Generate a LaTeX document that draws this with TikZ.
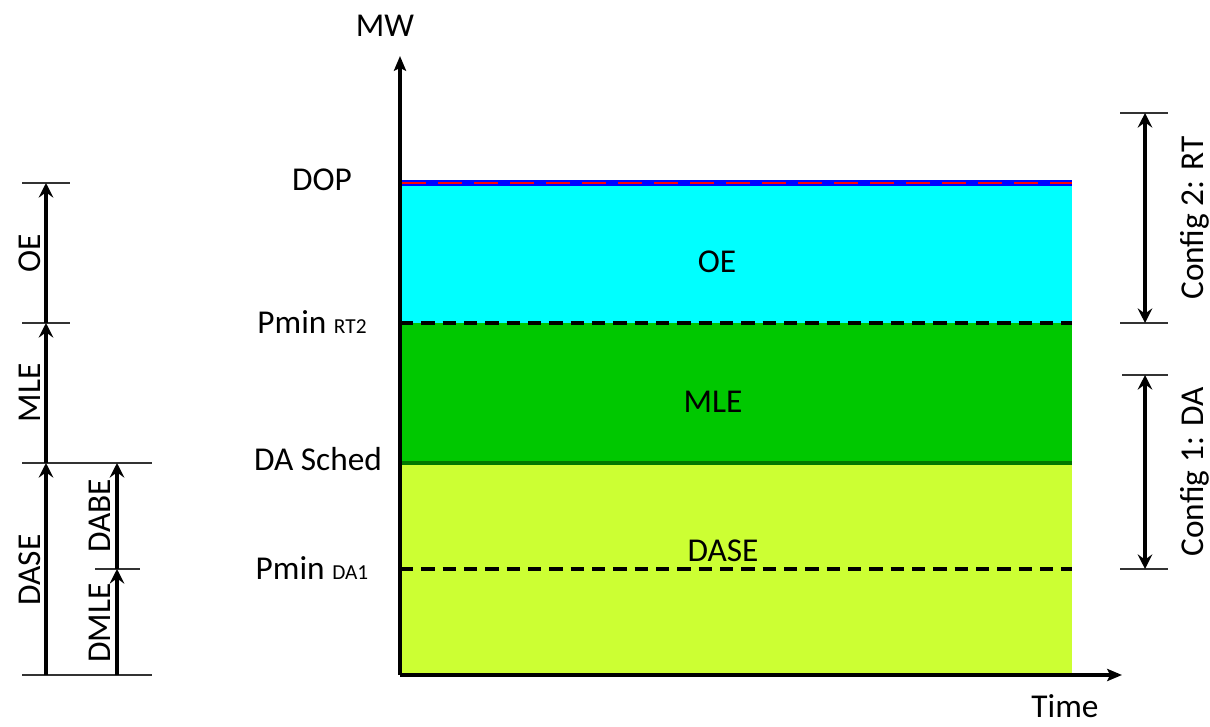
\documentclass[tikz,border=0pt]{standalone}
\usepackage{fontspec}
\setmainfont{Carlito}
\usetikzlibrary{arrows.meta}
\definecolor{cyanfill}{RGB}{0,255,255}
\definecolor{greenfill}{RGB}{0,200,0}
\definecolor{limefill}{RGB}{204,255,51}
\definecolor{darkgreen}{RGB}{0,120,0}
\definecolor{dopred}{RGB}{255,0,0}
\definecolor{dopblue}{RGB}{0,0,255}
\tikzset{
  lbl/.style={font=\fontsize{25}{30}\selectfont, inner sep=0pt},
  tick/.style={line width=1pt, black!80},
  arr/.style={line width=2.6pt, -{Stealth[length=11pt,width=11pt,inset=4pt]}},
  darr/.style={line width=2.6pt, {Stealth[length=11pt,width=11pt,inset=4pt]}-{Stealth[length=11pt,width=11pt,inset=4pt]}},
  axis/.style={line width=2.4pt, -{Stealth[length=11pt,width=9pt,inset=2pt]}},
  lvl/.style={line width=2.4pt, dash pattern=on 10pt off 6pt},
}
\begin{document}
\begin{tikzpicture}[x=0.75pt,y=-0.75pt]
\useasboundingbox (0,0) rectangle (1210,727);
% bands
\fill[cyanfill] (400,183) rectangle (1072,323);
\fill[greenfill] (400,323) rectangle (1072,463);
\fill[limefill] (400,463) rectangle (1072,675);
% lines
\draw[line width=3.8pt, dopblue] (400,183) -- (1072,183);
\draw[line width=2.2pt, dopred, dash pattern=on 18pt off 9pt] (402,183) -- (1072,183);
\draw[lvl] (400,323) -- (1072,323);
\draw[line width=3pt, darkgreen] (400,463) -- (1072,463);
\draw[lvl] (400,569) -- (1072,569);
% axes
\coordinate (O) at (400,675);
\coordinate (Ytop) at (400,56);
\coordinate (Xend) at (1122,675);
\draw[axis] (O) -- (Ytop);
\draw[axis] (O) -- (Xend);
\node[lbl] (mw) at (385,26) {MW};
\node[lbl] (time) at (1065,706) {Time};
% level labels
\node[lbl] (dop) at (322,180) {DOP};
\node[lbl] (prt) at (312,322) {Pmin {\fontsize{16}{19}\selectfont RT2}};
\node[lbl] (das) at (318,459) {DA Sched};
\node[lbl] (pda) at (312,568) {Pmin {\fontsize{16}{19}\selectfont DA1}};
% band labels
\node[lbl] (oe) at (717,262) {OE};
\node[lbl] (mle) at (713,402) {MLE};
\node[lbl] (dase) at (723,551) {DASE};
% left scale
\coordinate (L0) at (46,675);
\coordinate (L1) at (46,463);
\coordinate (L2) at (46,323);
\coordinate (L3) at (46,183);
\coordinate (M0) at (117,675);
\coordinate (M1) at (117,569);
\coordinate (M2) at (117,463);
\draw[tick] (22,183) -- (70,183);
\draw[tick] (22,323) -- (70,323);
\draw[tick] (22,463) -- (152,463);
\draw[tick] (95,569) -- (140,569);
\draw[tick] (22,675) -- (152,675);
\draw[arr] (L0) -- (L1);
\draw[arr] (L1) -- (L2);
\draw[arr] (L2) -- (L3);
\draw[arr] (M0) -- (M1);
\draw[arr] (M1) -- (M2);
\node[lbl, rotate=90] (loe) at (30,253) {OE};
\node[lbl, rotate=90] (lmle) at (30,393) {MLE};
\node[lbl, rotate=90] (ldase) at (30,570) {DASE};
\node[lbl, rotate=90] (ldabe) at (100,516) {DABE};
\node[lbl, rotate=90] (ldmle) at (100,623) {DMLE};
% right scale
\coordinate (R0) at (1145,113);
\coordinate (R1) at (1145,323);
\coordinate (R2) at (1145,375);
\coordinate (R3) at (1145,569);
\draw[tick] (1120,113) -- (1168,113);
\draw[tick] (1120,323) -- (1168,323);
\draw[tick] (1122,375) -- (1168,375);
\draw[tick] (1120,569) -- (1168,569);
\draw[darr] (R0) -- (R1);
\draw[darr] (R2) -- (R3);
\node[lbl, rotate=90] (c2) at (1195,218) {Config 2: RT};
\node[lbl, rotate=90] (c1) at (1195,472) {Config 1: DA};
\end{tikzpicture}
\end{document}
